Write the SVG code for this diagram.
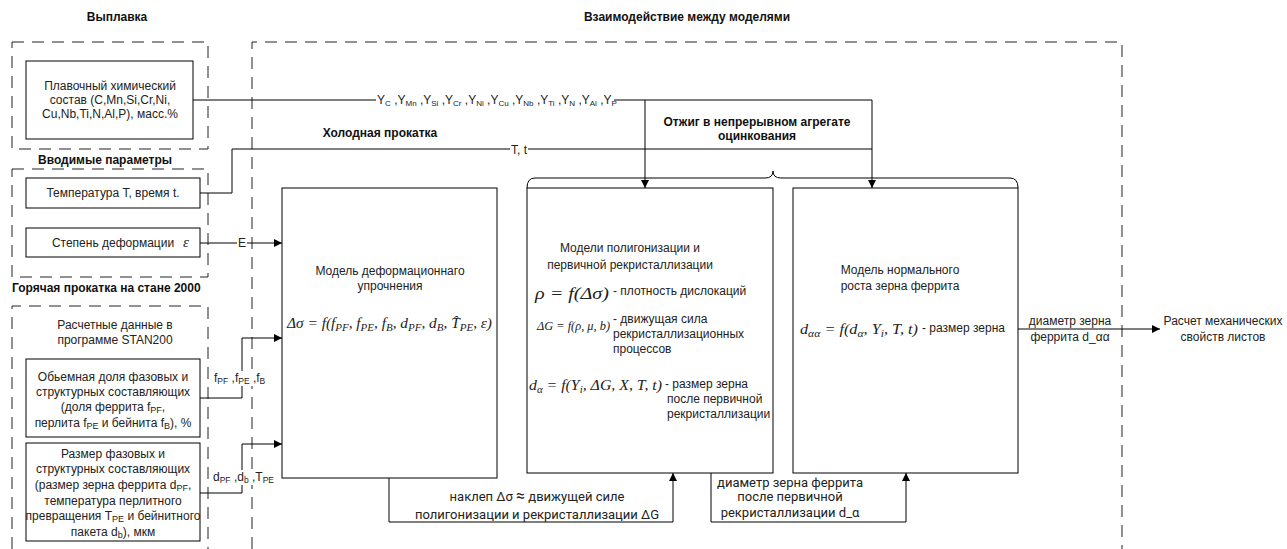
<svg xmlns="http://www.w3.org/2000/svg" width="1287" height="549" viewBox="0 0 1287 549">
<style>
.box{fill:#fff;stroke:#000;stroke-width:1}
.dash{fill:none;stroke:#222;stroke-width:1;stroke-dasharray:12 8}
.ln{fill:none;stroke:#000;stroke-width:1}
.t{font-family:"Liberation Sans",Arial,sans-serif;font-size:12px;fill:#222}
.c{text-anchor:middle}
.b{font-weight:bold;font-size:12px;fill:#111}
.r{font-family:Roboto,"Liberation Sans",sans-serif;font-size:13px;fill:#222}
.m{font-family:"Liberation Serif","DejaVu Serif",serif;font-style:italic;fill:#222}
.bg{fill:#fff}
</style>
<defs>
<marker id="arr" markerWidth="9" markerHeight="8" refX="8" refY="4" orient="auto" markerUnits="userSpaceOnUse">
<path d="M0,0 L8,4 L0,8 z" fill="#000"/>
</marker>
</defs>

<!-- titles -->
<text class="t b c" x="117" y="21">Выплавка</text>
<text class="t b c" x="687" y="21">Взаимодействие между моделями</text>
<text class="t b c" x="380" y="137">Холодная прокатка</text>
<text class="t b c" x="757" y="126">Отжиг в непрерывном агрегате</text>
<text class="t b c" x="757" y="140">оцинкования</text>
<text class="t b c" x="105" y="164">Вводимые параметры</text>
<text class="t b" x="12" y="292">Горячая прокатка на стане 2000</text>

<!-- dashed groups -->
<g id="groups">
<rect class="dash" x="12" y="42" width="196" height="107"/>
<rect class="dash" x="12" y="169" width="196" height="108"/>
<path class="dash" d="M12,549 V306 H208 V549"/>
<path class="dash" d="M252,549 V42 H1122 V549"/>
</g>

<!-- connectors -->
<g id="connectors">
<path class="ln" d="M193,100 H872 V188" marker-end="url(#arr)"/>
<path class="ln" d="M645,100 V188" marker-end="url(#arr)"/>
<path class="ln" d="M200,193 H232 V149 H872"/>
<path class="ln" d="M200,243 H282" marker-end="url(#arr)"/>
<path class="ln" d="M200,398 H242 V338 H282" marker-end="url(#arr)"/>
<path class="ln" d="M200,493 H242 V444 H282" marker-end="url(#arr)"/>
<path class="ln" d="M389,478 V522 H673 V473" marker-end="url(#arr)"/>
<path class="ln" d="M711,473 V522 H906 V473" marker-end="url(#arr)"/>
<path class="ln" d="M1018,329 H1160" marker-end="url(#arr)"/>
<path class="ln" d="M527,188 Q527,178 535,178 H765 Q773,178 773,171 Q773,178 781,178 H1010 Q1018,178 1018,188"/>

<!-- edge labels -->
<rect class="bg" x="376" y="93" width="238" height="15"/>
<text class="t" x="377" y="104" font-size="10.5">Y<tspan dy="2" font-size="8">C</tspan><tspan dy="-2"> ,Y</tspan><tspan dy="2" font-size="8">Mn</tspan><tspan dy="-2"> ,Y</tspan><tspan dy="2" font-size="8">Si</tspan><tspan dy="-2"> ,Y</tspan><tspan dy="2" font-size="8">Cr</tspan><tspan dy="-2"> ,Y</tspan><tspan dy="2" font-size="8">Ni</tspan><tspan dy="-2"> ,Y</tspan><tspan dy="2" font-size="8">Cu</tspan><tspan dy="-2"> ,Y</tspan><tspan dy="2" font-size="8">Nb</tspan><tspan dy="-2"> ,Y</tspan><tspan dy="2" font-size="8">Ti</tspan><tspan dy="-2"> ,Y</tspan><tspan dy="2" font-size="8">N</tspan><tspan dy="-2"> ,Y</tspan><tspan dy="2" font-size="8">Al</tspan><tspan dy="-2"> ,Y</tspan><tspan dy="2" font-size="8">P</tspan></text>
<rect class="bg" x="510" y="143" width="18" height="13"/>
<text class="t c" x="519" y="154" font-size="11">T, t</text>
<rect class="bg" x="237" y="237" width="10" height="12"/>
<text class="t c" x="242" y="247" font-size="11">E</text>
<rect class="bg" x="213" y="371" width="52" height="15"/>
<text class="t" x="214" y="382" font-size="11">f<tspan dy="2" font-size="8.5">PF</tspan><tspan dy="-2"> ,f</tspan><tspan dy="2" font-size="8.5">PE</tspan><tspan dy="-2"> ,f</tspan><tspan dy="2" font-size="8.5">B</tspan></text>
<rect class="bg" x="212" y="470" width="60" height="15"/>
<text class="t" x="213" y="481" font-size="11">d<tspan dy="2" font-size="8.5">PF</tspan><tspan dy="-2"> ,d</tspan><tspan dy="2" font-size="8.5">b</tspan><tspan dy="-2"> ,T</tspan><tspan dy="2" font-size="8.5">PE</tspan></text>
<text class="r c" x="537" y="501">наклеп Δσ <tspan font-size="16">≈</tspan> движущей силе</text>
<text class="r c" x="537" y="519">полигонизации и рекристаллизации ΔG</text>
<text class="r c" x="790" y="487" font-size="12.5">диаметр зерна феррита</text>
<text class="r c" x="790" y="501" font-size="12.5">после первичной</text>
<text class="r c" x="790" y="517" font-size="12.5">рекристаллизации d_α</text>
<text class="t c" x="1070" y="325">диаметр зерна</text>
<text class="t c" x="1070" y="341">феррита d_αα</text>
</g>

<!-- nodes -->
<g id="n-chem">
<rect class="box" x="26" y="61" width="167" height="78"/>
<text class="t c" x="110" y="90">Плавочный химический</text>
<text class="t c" x="110" y="104">состав (C,Mn,Si,Cr,Ni,</text>
<text class="t c" x="110" y="118">Cu,Nb,Ti,N,Al,P), масс.%</text>
</g>
<g id="n-temp">
<rect class="box" x="26" y="178" width="174" height="30"/>
<text class="t c" x="113" y="197">Температура T, время t.</text>
</g>
<g id="n-deform">
<rect class="box" x="26" y="228" width="174" height="29"/>
<text class="t c" x="113" y="247">Степень деформации</text>
<text class="m" x="183" y="247" font-size="15">ε</text>
</g>
<g id="n-stan">
<text class="t c" x="115" y="329">Расчетные данные в</text>
<text class="t c" x="115" y="344">программе STAN200</text>
</g>
<g id="n-frac">
<rect class="box" x="26" y="359" width="174" height="78"/>
<text class="t c" x="113" y="381">Обьемная доля фазовых и</text>
<text class="t c" x="113" y="396">структурных составляющих</text>
<text class="t c" x="113" y="411">(доля феррита f<tspan dy="2" font-size="9">PF</tspan><tspan dy="-2">,</tspan></text>
<text class="t c" x="113" y="427">перлита f<tspan dy="2" font-size="9">PE</tspan><tspan dy="-2"> и бейнита f</tspan><tspan dy="2" font-size="9">B</tspan><tspan dy="-2">), %</tspan></text>
</g>
<g id="n-size">
<rect class="box" x="26" y="443" width="174" height="98"/>
<text class="t c" x="113" y="458">Размер фазовых и</text>
<text class="t c" x="113" y="473">структурных составляющих</text>
<text class="t c" x="113" y="489">(размер зерна феррита d<tspan dy="2" font-size="9">PF</tspan><tspan dy="-2">,</tspan></text>
<text class="t c" x="113" y="505">температура перлитного</text>
<text class="t c" x="113" y="520">превращения T<tspan dy="2" font-size="9">PE</tspan><tspan dy="-2"> и бейнитного</tspan></text>
<text class="t c" x="113" y="536">пакета d<tspan dy="2" font-size="9">b</tspan><tspan dy="-2">), мкм</tspan></text>
</g>
<g id="n-harden">
<rect class="box" x="282" y="188" width="215" height="290"/>
<text class="t c" x="390" y="275">Модель деформационнаго</text>
<text class="t c" x="390" y="290">упрочнения</text>
<text class="m" x="287" y="328" font-size="14" textLength="205" lengthAdjust="spacingAndGlyphs">Δσ = f(f<tspan dy="3" font-size="10">PF</tspan><tspan dy="-3">, f</tspan><tspan dy="3" font-size="10">PE</tspan><tspan dy="-3">, f</tspan><tspan dy="3" font-size="10">B</tspan><tspan dy="-3">, d</tspan><tspan dy="3" font-size="10">PF</tspan><tspan dy="-3">, d</tspan><tspan dy="3" font-size="10">B</tspan><tspan dy="-3">, T̂</tspan><tspan dy="3" font-size="10">PE</tspan><tspan dy="-3">, ε)</tspan></text>
</g>
<g id="n-recryst">
<rect class="box" x="527" y="188" width="246" height="285"/>
<text class="t c" x="630" y="252">Модели полигонизации и</text>
<text class="t c" x="630" y="269">первичной рекристаллизации</text>
<text class="m" x="535" y="299" font-size="17" textLength="74" lengthAdjust="spacingAndGlyphs">ρ = f(Δσ)</text>
<text class="t" x="613" y="295" font-size="12.5">- плотность дислокаций</text>
<text class="m" x="537" y="330" font-size="11.5" textLength="73" lengthAdjust="spacingAndGlyphs">ΔG = f(ρ, μ, b)</text>
<text class="t" x="613" y="323">- движущая сила</text>
<text class="t" x="613" y="338">рекристаллизационных</text>
<text class="t" x="613" y="353">процессов</text>
<text class="m" x="529" y="390" font-size="14.5" textLength="133" lengthAdjust="spacingAndGlyphs">d<tspan dy="3" font-size="10">α</tspan><tspan dy="-3"> = f(Y</tspan><tspan dy="3" font-size="10">i</tspan><tspan dy="-3">, ΔG, X, T, t)</tspan></text>
<text class="t" x="665" y="388" font-size="11.5">- размер зерна</text>
<text class="t" x="667" y="403" font-size="11.2">после первичной</text>
<text class="t" x="667" y="418" font-size="11.2">рекристаллизации</text>
</g>
<g id="n-growth">
<rect class="box" x="793" y="188" width="225" height="285"/>
<text class="t c" x="900" y="274">Модель нормального</text>
<text class="t c" x="900" y="290">роста зерна феррита</text>
<text class="m" x="800" y="334" font-size="14" textLength="118" lengthAdjust="spacingAndGlyphs">d<tspan dy="3" font-size="10">αα</tspan><tspan dy="-3"> = f(d</tspan><tspan dy="3" font-size="10">α</tspan><tspan dy="-3">, Y</tspan><tspan dy="3" font-size="10">i</tspan><tspan dy="-3">, T, t)</tspan></text>
<text class="t" x="922" y="332" font-size="11.5">- размер зерна</text>
</g>
<g id="n-mech">
<text class="t c" x="1223" y="325">Расчет механических</text>
<text class="t c" x="1223" y="341">свойств листов</text>
</g>
</svg>
